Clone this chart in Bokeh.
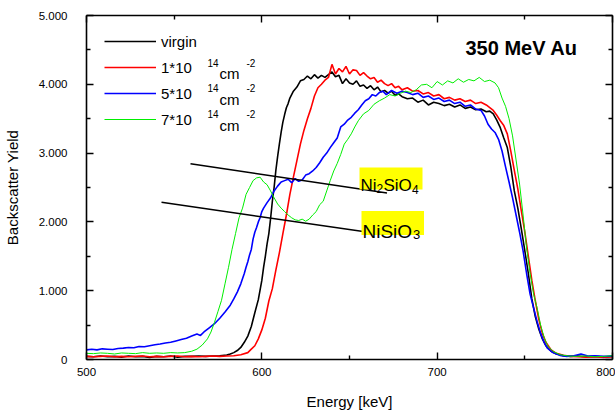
from bokeh.plotting import figure
from bokeh.models import (Range1d, LinearAxis, FixedTicker, CustomJSTickFormatter,
                          Legend, LegendItem, Label, BoxAnnotation)
from bokeh.embed import file_html
from bokeh.resources import INLINE

# ---------------- data ----------------
x_ticks = [500, 600, 700, 800]
x_minor = [550, 650, 750]
y_ticks = [0, 1000, 2000, 3000, 4000, 5000]
y_tick_labels = ["0", "1.000", "2.000", "3.000", "4.000", "5.000"]
y_minor = [500, 1500, 2500, 3500, 4500]

series_names = ["virgin", "1*10", "5*10", "7*10"]

virgin_e = [500, 504, 508, 512, 516, 520, 524, 528, 532, 536, 540, 544, 548, 552, 556, 560, 564, 568, 572, 576,
            580, 582, 584, 586, 588, 590, 592, 594, 596, 598, 600, 601, 602, 603, 604, 605, 606, 607, 608, 609,
            610, 611, 612, 613, 614, 615, 616, 618, 620, 622, 624, 626, 628, 630, 632, 634, 636, 638, 640, 642,
            644, 646, 648, 650, 652, 654, 656, 658, 660, 662, 664, 666, 668, 670, 672, 674, 676, 678, 680, 683,
            686, 689, 692, 695, 698, 701, 704, 707, 710, 713, 716, 719, 722, 725, 728, 730, 732, 734, 736, 738,
            740, 742, 744, 746, 748, 750, 752, 754, 756, 758, 760, 762, 765, 768, 772, 776, 780, 785, 790, 795, 800]
virgin_y = [45, 40, 50, 40, 45, 35, 50, 40, 45, 30, 45, 40, 50, 35, 45, 45, 50, 45, 50, 55,
            65, 80, 100, 130, 175, 250, 340, 480, 680, 870, 1150, 1340, 1500, 1680, 1830, 2050, 2300, 2500, 2750, 2950,
            3130, 3300, 3450, 3560, 3660, 3720, 3800, 3900, 3960, 4050, 4070, 4120, 4080, 4140, 4090, 4130, 4100, 4140, 4180, 4110,
            4130, 4010, 4080, 4020, 4000, 4050, 3970, 3990, 3940, 3980, 3920, 3960, 3890, 3910, 3870, 3900, 3840, 3860, 3820, 3790,
            3800, 3740, 3770, 3700, 3740, 3720, 3690, 3710, 3670, 3700, 3650, 3670, 3630, 3640, 3600, 3610, 3570, 3480, 3370, 3220,
            3080, 2800, 2450, 2200, 1900, 1580, 1250, 880, 620, 440, 300, 200, 120, 80, 55, 45, 50, 40, 45, 35, 45]

d1_e = [500, 504, 508, 512, 516, 520, 524, 528, 532, 536, 540, 544, 548, 552, 556, 560, 564, 568, 572, 576, 580,
        584, 588, 592, 594, 596, 598, 600, 602, 604, 606, 608, 610, 612, 614, 615, 616, 618, 620, 622, 624, 626,
        628, 630, 632, 634, 636, 638, 640, 642, 644, 646, 648, 650, 652, 654, 656, 658, 660, 662, 664, 666, 668,
        670, 672, 674, 676, 678, 680, 683, 686, 689, 692, 695, 698, 701, 704, 707, 710, 713, 716, 719, 722, 725,
        728, 730, 732, 734, 736, 738, 740, 742, 744, 746, 748, 750, 752, 754, 756, 758, 760, 762, 765, 768, 772,
        776, 780, 785, 790, 795, 800]
d1_y = [45, 40, 45, 50, 40, 45, 40, 45, 50, 40, 45, 40, 45, 50, 40, 45, 40, 45, 50, 45, 50,
        55, 70, 100, 150, 200, 300, 430, 600, 850, 1030, 1300, 1550, 1830, 2100, 2250, 2400, 2650, 2890, 3130, 3330, 3500,
        3650, 3830, 3950, 4000, 4060, 4100, 4290, 4150, 4230, 4180, 4260, 4150, 4210, 4200, 4130, 4170, 4120, 4080, 4100, 4030, 4060,
        4010, 3980, 4010, 3950, 3970, 3920, 3950, 3900, 3910, 3860, 3880, 3830, 3850, 3790, 3810, 3770, 3790, 3750, 3770, 3720, 3740,
        3700, 3660, 3620, 3550, 3470, 3400, 3280, 3030, 2750, 2480, 2160, 1850, 1500, 1150, 850, 580, 380, 250, 140, 90, 60,
        45, 40, 35, 40, 30, 40]

d5_e = [500, 503, 506, 509, 512, 515, 518, 521, 524, 527, 530, 533, 536, 539, 542, 545, 548, 551, 554, 557, 560, 563,
        565, 567, 570, 573, 576, 579, 582, 584, 586, 588, 590, 591, 592, 593, 594, 595, 596, 597, 598, 599, 600, 601,
        603, 605, 607, 609, 611, 613, 615, 617, 619, 621, 623, 625, 627, 629, 631, 633, 635, 637, 639, 641, 643, 645,
        647, 649, 651, 653, 655, 657, 659, 661, 663, 665, 667, 669, 671, 674, 677, 680, 683, 686, 689, 692, 695, 698,
        701, 704, 707, 710, 713, 716, 719, 722, 725, 727, 729, 731, 733, 735, 737, 739, 741, 743, 745, 747, 749, 751,
        753, 755, 757, 759, 761, 763, 766, 770, 774, 778, 782, 786, 790, 795, 800]
d5_y = [140, 150, 140, 155, 150, 145, 160, 165, 175, 170, 190, 185, 200, 215, 225, 240, 250, 270, 290, 310, 340, 370,
        350, 400, 460, 520, 600, 690, 790, 880, 980, 1100, 1250, 1340, 1420, 1520, 1600, 1750, 1850, 1920, 2000, 2060, 2150, 2200,
        2280, 2350, 2450, 2520, 2580, 2600, 2620, 2570, 2630, 2590, 2610, 2680, 2700, 2740, 2790, 2860, 2940, 3000, 3080, 3150, 3220, 3380,
        3420, 3480, 3520, 3580, 3630, 3700, 3760, 3790, 3850, 3830, 3880, 3900, 3850, 3910, 3870, 3900, 3880, 3850, 3870, 3810, 3830, 3780,
        3800, 3750, 3770, 3720, 3740, 3680, 3700, 3640, 3620, 3540, 3420, 3350, 3300, 3200, 3030, 2800, 2580, 2350, 2100, 1850, 1580, 1250,
        950, 750, 550, 380, 250, 160, 100, 60, 45, 55, 80, 50, 55, 45, 50]

d7_e = [500, 504, 508, 512, 516, 520, 524, 528, 532, 536, 540, 544, 548, 552, 556, 560, 563, 566, 569, 571, 573, 575,
        577, 579, 581, 583, 585, 587, 589, 591, 593, 595, 597, 599, 601, 603, 605, 607, 609, 611, 613, 615, 617, 619,
        621, 623, 625, 627, 629, 631, 633, 635, 637, 639, 641, 643, 645, 647, 649, 651, 653, 655, 658, 661, 664, 667,
        670, 673, 676, 679, 682, 685, 688, 691, 694, 697, 700, 703, 706, 709, 712, 715, 718, 721, 724, 727, 730, 733,
        735, 737, 739, 741, 743, 745, 747, 749, 751, 753, 755, 757, 759, 761, 763, 766, 770, 775, 780, 785, 790, 795, 800]
d7_y = [90, 85, 95, 90, 80, 95, 90, 85, 100, 90, 95, 90, 100, 95, 100, 120, 150, 210, 300, 400, 540, 700,
        860, 1100, 1340, 1600, 1830, 2060, 2200, 2400, 2500, 2600, 2640, 2650, 2580, 2540, 2450, 2350, 2260, 2200, 2150, 2100, 2060, 2030,
        2020, 2040, 2010, 2040, 2100, 2150, 2250, 2300, 2450, 2600, 2740, 2850, 2980, 3130, 3200, 3280, 3380, 3470, 3570, 3620, 3710, 3760,
        3800, 3850, 3830, 3870, 3900, 3880, 3920, 3990, 4000, 3950, 4040, 3990, 4050, 4020, 4080, 4030, 4070, 4050, 4100, 4040, 4060, 4020,
        3950, 3800, 3680, 3500, 3250, 2900, 2550, 2100, 1620, 1250, 950, 750, 500, 320, 200, 120, 70, 50, 45, 50, 40, 45, 55]

series_e = [virgin_e, d1_e, d5_e, d7_e]
series_y = [virgin_y, d1_y, d5_y, d7_y]

# ---------------- layout / style ----------------
FONT = "Liberation Sans"
colors = ["#000000", "#ff0000", "#0000ff", "#00ee00"]
widths = [1.6, 1.6, 1.6, 1.0]

X0, X1, Y0, Y1 = 500, 800, 0, 5000
# frame position on the page (pixels), used to place annotations
FL, FR, FT, FB = 86, 612, 15, 359


def sx(px):
    return X0 + (px - FL) * (X1 - X0) / (FR - FL)


def sy(py):
    return Y0 + (FB - py) * (Y1 - Y0) / (FB - FT)


p = figure(width=615, height=412, output_backend="svg", toolbar_location=None,
           x_range=Range1d(X0, X1), y_range=Range1d(Y0, Y1),
           min_border_left=86, min_border_right=3, min_border_top=15, min_border_bottom=53,
           x_axis_label="Energy [keV]", y_axis_label="Backscatter Yield")
p.background_fill_color = "white"
p.border_fill_color = "white"
p.outline_line_color = None
p.xgrid.visible = False
p.ygrid.visible = False


def style_axis(ax, ticks, minor):
    ax.ticker = FixedTicker(ticks=ticks, minor_ticks=minor)
    ax.axis_line_color = "black"
    ax.axis_line_width = 1.6
    ax.major_tick_line_color = "black"
    ax.minor_tick_line_color = "black"
    ax.major_tick_line_width = 1.4
    ax.minor_tick_line_width = 1.4
    ax.major_tick_in = 7
    ax.major_tick_out = 0
    ax.minor_tick_in = 4
    ax.minor_tick_out = 0
    ax.major_label_text_font = FONT
    ax.major_label_text_font_size = "11.5px"
    ax.major_label_text_color = "black"
    ax.axis_label_text_font = FONT
    ax.axis_label_text_font_size = "15px"
    ax.axis_label_text_font_style = "normal"
    ax.axis_label_text_color = "black"


style_axis(p.xaxis[0], x_ticks, x_minor)
style_axis(p.yaxis[0], y_ticks, y_minor)
p.xaxis[0].major_label_standoff = 8
p.xaxis[0].axis_label_standoff = 14
p.yaxis[0].major_label_standoff = 19
p.yaxis[0].axis_label_standoff = 15
p.yaxis[0].major_label_overrides = {t: s for t, s in zip(y_ticks, y_tick_labels)}
p.yaxis[0].major_label_orientation = "horizontal"

top_ax = LinearAxis()
right_ax = LinearAxis()
style_axis(top_ax, x_ticks, x_minor)
style_axis(right_ax, y_ticks, y_minor)
for ax in (top_ax, right_ax):
    ax.formatter = CustomJSTickFormatter(code="return ''")
    ax.major_label_standoff = 0
    ax.major_label_text_font_size = "1px"
p.add_layout(top_ax, "above")
p.add_layout(right_ax, "right")

# ---------------- curves ----------------
renderers = []
for e, y, c, w in zip(series_e, series_y, colors, widths):
    renderers.append(p.line(e, y, line_color=c, line_width=w))

legend = Legend(items=[LegendItem(label=n, renderers=[r]) for n, r in zip(series_names, renderers)],
                location=(18, 228), padding=0, margin=0, spacing=2,
                glyph_width=52, glyph_height=16, label_height=24, label_standoff=5,
                label_text_font=FONT, label_text_font_size="15px", label_text_color="black",
                border_line_color=None, background_fill_alpha=0)
p.add_layout(legend)

# superscripts of the legend labels
for i in range(3):
    dy = 25.8 * i
    p.add_layout(Label(x=sx(207), y=sy(62 + dy), text="14", text_font=FONT, text_font_size="10px",
                       text_baseline="alphabetic", text_align="left", text_color="black"))
    p.add_layout(Label(x=sx(219), y=sy(73 + dy), text="cm", text_font=FONT, text_font_size="15px",
                       text_baseline="alphabetic", text_align="left", text_color="black"))
    p.add_layout(Label(x=sx(246), y=sy(62 + dy), text="-2", text_font=FONT, text_font_size="10px",
                       text_baseline="alphabetic", text_align="left", text_color="black"))

# title inside the frame
p.add_layout(Label(x=sx(465), y=sy(47), text="350 MeV Au", text_font=FONT, text_font_size="20px",
                   text_font_style="bold", text_baseline="alphabetic", text_align="left", text_color="black"))

# phase marker lines
ann_x0 = [190, 161]
ann_y0 = [163.3, 201.7]
ann_x1 = [386.5, 362.7]
ann_y1 = [192.5, 231]
p.segment(x0=[sx(v) for v in ann_x0], y0=[sy(v) for v in ann_y0],
          x1=[sx(v) for v in ann_x1], y1=[sy(v) for v in ann_y1],
          line_color="black", line_width=1.5)

# yellow label boxes
boxes = [(359, 422, 167, 189), (361, 423.5, 210.5, 234.5)]
for l, r, t, b in boxes:
    p.add_layout(BoxAnnotation(left=sx(l), right=sx(r), top=sy(t), bottom=sy(b),
                               fill_color="#ffff00", fill_alpha=1.0, line_color=None, line_alpha=0))

pieces = [("Ni", 360, 185, "17px"), ("2", 376, 188, "12px"), ("SiO", 383, 185, "17px"), ("4", 411.5, 188.5, "12px"),
          ("NiSiO", 362, 231, "19px"), ("3", 412.5, 234, "13px")]
for txt, px, py, fs in pieces:
    p.add_layout(Label(x=sx(px), y=sy(py), text=txt, text_font=FONT, text_font_size=fs,
                       text_baseline="alphabetic", text_align="left", text_color="black"))

open("out.html", "w").write(file_html(p, INLINE))
